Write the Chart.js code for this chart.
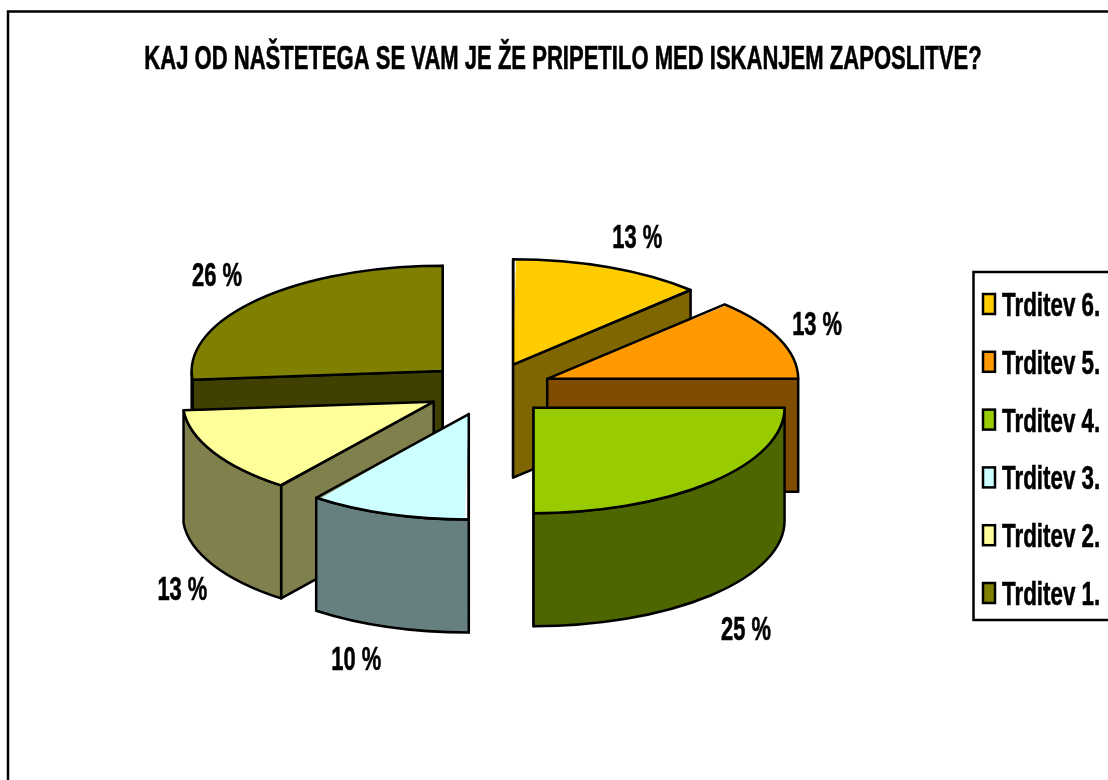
<!DOCTYPE html>
<html>
<head>
<meta charset="utf-8">
<title>Trditve</title>
<script src="https://cdn.jsdelivr.net/npm/chart.js@4/dist/chart.umd.js"></script>
<style>
  html, body { margin: 0; padding: 0; background: #fff; }
  canvas { display: block; }
</style>
</head>
<body>
<canvas id="chart" width="1108" height="780"></canvas>
<script>
// ─── Data ──────────────────────────────────────────────────────────────────────
const chartTitle = "KAJ OD NAŠTETEGA SE VAM JE ŽE PRIPETILO MED ISKANJEM ZAPOSLITVE?";
const labels = ["Trditev 6.", "Trditev 5.", "Trditev 4.", "Trditev 3.", "Trditev 2.", "Trditev 1."];
const values = [12.5, 12.5, 25, 10.4, 13.3, 26.3];
const topColors = ["#FFCC00", "#FF9900", "#99CC00", "#CCFFFF", "#FFFF99", "#808000"];
const sideColors = ["#806600", "#804D00", "#4D6600", "#668080", "#80804D", "#404000"];

// ─── Look of the fake 3D pie ───────────────────────────────────────────────────
const TILT = 0.42;
const DEPTH = 113;
const RIM_RADIUS = 251;
const EXPLODE = 63;
const LINE = 2.5;
const FONT = 'bold 33px "Liberation Sans", Arial, sans-serif';
// label shift from the rim of its slice, same order as labels
const labelShift = [[28, -28], [38, -13], [35, 36], [-32, 34], [-31, 26], [-41, -23]];

function narrowText(ctx, text, x, y, align, scale) {
  ctx.save();
  ctx.font = FONT;
  ctx.fillStyle = "#000";
  ctx.strokeStyle = "#000";
  ctx.lineWidth = 0.6;
  ctx.textAlign = align;
  ctx.textBaseline = "middle";
  ctx.translate(x, y);
  ctx.scale(scale, 1);
  ctx.fillText(text, 0, 0);
  ctx.strokeText(text, 0, 0);
  ctx.restore();
}

function arcGeometry(arc) {
  const explode = arc.options.offset / 4;
  const mid = (arc.startAngle + arc.endAngle) / 2;
  return {
    x: arc.x + Math.cos(mid) * explode,
    y: arc.y + Math.sin(mid) * explode * TILT,
    r: RIM_RADIUS,
    mid
  };
}

// one radial wall, from the slice centre out to the rim at this angle
function radialWall(ctx, g, angle) {
  const px = g.x + Math.cos(angle) * g.r;
  const py = g.y + Math.sin(angle) * g.r * TILT;
  ctx.beginPath();
  ctx.moveTo(g.x, g.y);
  ctx.lineTo(px, py);
  ctx.lineTo(px, py + DEPTH);
  ctx.lineTo(g.x, g.y + DEPTH);
  ctx.closePath();
  ctx.fill();
  ctx.stroke();
}

function curvedWall(ctx, g, start, end) {
  const a = Math.max(start, 0);
  const b = Math.min(end, Math.PI);
  if (b <= a) return;
  ctx.beginPath();
  ctx.ellipse(g.x, g.y, g.r, g.r * TILT, 0, a, b);
  ctx.ellipse(g.x, g.y + DEPTH, g.r, g.r * TILT, 0, b, a, true);
  ctx.closePath();
  ctx.fill();
  ctx.stroke();
}

const pie3d = {
  id: "pie3d",
  afterDatasetsUpdate(chart) {
    // arc element grows an offset slice depending on its sweep, cancel that
    chart.getDatasetMeta(0).data.forEach(arc => {
      const fix = 1 - Math.sin(Math.min(Math.PI, arc.circumference));
      arc.outerRadius = RIM_RADIUS - fix * arc.options.offset / 4;
    });
  },
  beforeDatasetsDraw(chart) {
    const ctx = chart.ctx;
    const arcs = chart.getDatasetMeta(0).data;
    // walls back to front, so the nearer slices cover the ones behind
    const order = arcs.map((a, i) => i).sort((i, j) => arcGeometry(arcs[i]).y - arcGeometry(arcs[j]).y);
    ctx.save();
    ctx.strokeStyle = "#000";
    ctx.lineWidth = LINE;
    ctx.lineJoin = "round";
    order.forEach(i => {
      const arc = arcs[i];
      const g = arcGeometry(arc);
      ctx.fillStyle = sideColors[i];
      // only the cut faces turned to the viewer
      if (-Math.cos(arc.startAngle) > -1e-6) radialWall(ctx, g, arc.startAngle);
      if (Math.cos(arc.endAngle) > -1e-6) radialWall(ctx, g, arc.endAngle);
      curvedWall(ctx, g, arc.startAngle, arc.endAngle);
    });
    ctx.restore();

    // the library draws the top faces squashed into an ellipse
    const cy = arcs[0].y;
    ctx.save();
    ctx.translate(0, cy);
    ctx.scale(1, TILT);
    ctx.translate(0, -cy);
  },
  afterDatasetsDraw(chart) {
    const ctx = chart.ctx;
    ctx.restore();
    const arcs = chart.getDatasetMeta(0).data;
    ctx.save();
    ctx.strokeStyle = "#000";
    ctx.lineWidth = LINE;
    ctx.lineJoin = "round";
    arcs.forEach(arc => {
      const g = arcGeometry(arc);
      ctx.beginPath();
      ctx.moveTo(g.x, g.y);
      ctx.ellipse(g.x, g.y, g.r, g.r * TILT, 0, arc.startAngle, arc.endAngle);
      ctx.closePath();
      ctx.stroke();
    });
    ctx.restore();

    arcs.forEach((arc, i) => {
      const g = arcGeometry(arc);
      const front = Math.sin(g.mid) > 0 ? DEPTH : 0;
      const x = g.x + Math.cos(g.mid) * g.r + labelShift[i][0];
      const y = g.y + Math.sin(g.mid) * g.r * TILT + front + labelShift[i][1];
      narrowText(ctx, Math.round(values[i]) + " %", x, y, "center", 0.664);
    });
  }
};

// frame, title and legend box
const decorations = {
  id: "decorations",
  afterDraw(chart) {
    const ctx = chart.ctx;
    ctx.save();
    ctx.strokeStyle = "#000";
    ctx.lineWidth = LINE;
    ctx.strokeRect(8, 11.5, 1120, 800);
    ctx.strokeRect(973.5, 272, 160, 348);
    ctx.restore();

    narrowText(ctx, chartTitle, 563, 60, "center", 0.668);

    labels.forEach((label, i) => {
      const rowY = 304 + i * 57.8;
      ctx.save();
      ctx.fillStyle = topColors[i];
      ctx.strokeStyle = "#000";
      ctx.lineWidth = 2.5;
      ctx.fillRect(983, rowY - 10, 12, 20);
      ctx.strokeRect(983, rowY - 10, 12, 20);
      ctx.restore();
      narrowText(ctx, label, 1002, rowY + 3, "left", 0.678);
    });
  }
};

new Chart(document.getElementById("chart").getContext("2d"), {
  type: "pie",
  data: {
    labels,
    datasets: [{
      data: values,
      backgroundColor: topColors,
      borderWidth: 0,
      offset: EXPLODE * 4,   // the arc element moves by offset / 4
      radius: RIM_RADIUS,
      clip: false
    }]
  },
  options: {
    responsive: false,
    animation: false,
    events: [],
    layout: { padding: { right: 130, bottom: 2 } },
    plugins: {
      legend: { display: false },
      tooltip: { enabled: false }
    }
  },
  plugins: [pie3d, decorations]
});
</script>
</body>
</html>
